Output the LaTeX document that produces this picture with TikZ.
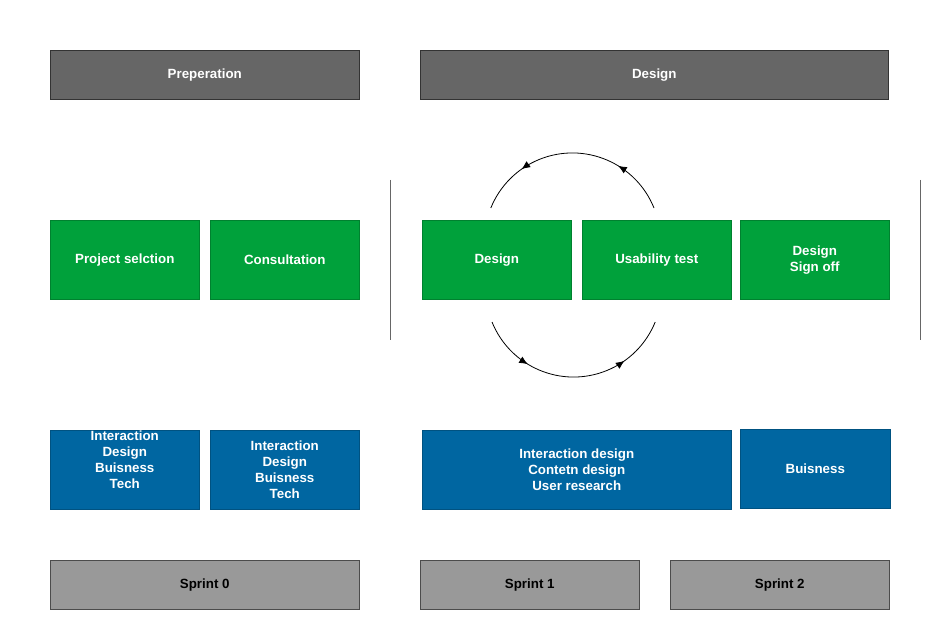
\documentclass[tikz,border=0pt]{standalone}
\usepackage{fontspec}
\setmainfont{Liberation Sans}
\usepackage{xcolor}
\usepackage{tikz}
\usetikzlibrary{arrows.meta, positioning, decorations.markings}
\definecolor{headgray}{HTML}{666666}
\definecolor{sprintgray}{HTML}{999999}
\definecolor{actgreen}{HTML}{00A13B}
\definecolor{teamblue}{HTML}{0066A1}
\tikzset{
  box/.style={rectangle, anchor=north west, align=center, inner sep=0pt,
              font=\fontsize{10}{12}\selectfont\bfseries},
  headbox/.style={box, draw=black!80, fill=headgray, text=white,
                  minimum height=36.75pt},
  actbox/.style={box, draw=actgreen!80!black, fill=actgreen, text=white,
                 minimum width=111.75pt, minimum height=59.25pt},
  teambox/.style={box, draw=teamblue!80!black, fill=teamblue, text=white,
                  minimum height=59.25pt},
  sprintbox/.style={box, draw=black!70, fill=sprintgray, text=black,
                    minimum height=36.75pt},
  divider/.style={draw=black!60, line width=0.7pt},
  cycle/.style={draw=black, line width=0.6pt,
                postaction={decorate, decoration={markings,
                  mark=at position 0.27 with {\arrow{Latex[length=6.5pt,width=5.5pt]}},
                  mark=at position 0.76 with {\arrow{Latex[length=6.5pt,width=5.5pt]}}}}},
}

\begin{document}
\begin{tikzpicture}[x=0.75pt, y=-0.75pt]
  \useasboundingbox (0,0) rectangle (941,630);

  % Phase headers
  \node[headbox, minimum width=231.75pt] (prep)     at (50, 50)  {Preperation};
  \node[headbox, minimum width=351pt]    (dsgnHead) at (420, 50) {Design};

  % Dividers
  \coordinate (divLtop) at (390, 180); \coordinate (divLbot) at (390, 340);
  \coordinate (divRtop) at (920, 180); \coordinate (divRbot) at (920, 340);
  \draw[divider] (divLtop) -- (divLbot);
  \draw[divider] (divRtop) -- (divRbot);

  % Activities
  \node[actbox] (projSel) at (50, 220)  {Project selction};
  \node[actbox] (consult) at (210, 220) {Consultation};
  \node[actbox] (dsgn)    at (422, 220) {Design};
  \node[actbox] (usab)    at (582, 220) {Usability test};
  \node[actbox] (signoff) at (740, 220) {Design\\Sign off};

  % Design / test loop
  \coordinate (loopTR) at (654, 208);
  \coordinate (loopBL) at (492, 322);
  \draw[cycle] (loopTR) arc[start angle=22, end angle=158, radius=66pt];
  \draw[cycle] (loopBL) arc[start angle=202, end angle=338, radius=66pt];

  % Teams
  \node[teambox, minimum width=111.75pt] (team0) at (50, 430) {};
  \node[box, anchor=center, text=white] at ([yshift=7.5pt]team0.center)
       {Interaction\\Design\\Buisness\\Tech};
  \node[teambox, minimum width=111.75pt] (team1) at (210, 430)
       {Interaction\\Design\\Buisness\\Tech};
  \node[teambox, minimum width=231.75pt] (team2) at (422, 430)
       {Interaction design\\Contetn design\\User research};
  \node[teambox, minimum width=112.5pt]  (team3) at (740, 429) {Buisness};

  % Sprints
  \node[sprintbox, minimum width=231.75pt] (sprint0) at (50, 560)  {Sprint 0};
  \node[sprintbox, minimum width=164.25pt] (sprint1) at (420, 560) {Sprint 1};
  \node[sprintbox, minimum width=164.25pt] (sprint2) at (670, 560) {Sprint 2};

\end{tikzpicture}
\end{document}
